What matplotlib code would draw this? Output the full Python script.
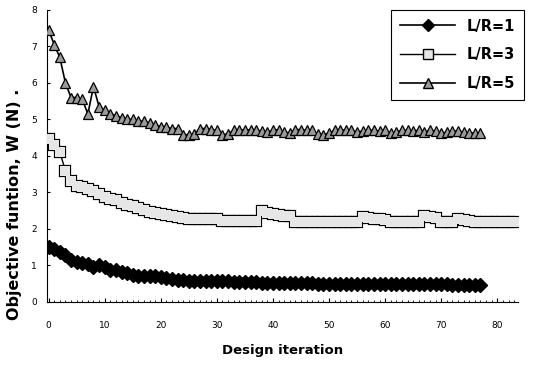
import matplotlib.pyplot as plt
from matplotlib.lines import Line2D

# design iterations and objective function values
it_r1 = list(range(78))
w_r1 = [1.50, 1.45, 1.38, 1.28, 1.15, 1.10, 1.08, 1.05, 0.95, 1.00,
        0.95, 0.88, 0.88, 0.82, 0.80, 0.75, 0.70, 0.72, 0.72, 0.70,
        0.68, 0.66, 0.63, 0.60, 0.60, 0.58, 0.58, 0.58, 0.57, 0.57,
        0.57, 0.57, 0.57, 0.56, 0.56, 0.56, 0.56, 0.56, 0.53, 0.53,
        0.52, 0.52, 0.52, 0.51, 0.51, 0.51, 0.51, 0.51, 0.50, 0.50,
        0.50, 0.50, 0.50, 0.50, 0.50, 0.50, 0.50, 0.50, 0.50, 0.49,
        0.49, 0.49, 0.49, 0.49, 0.49, 0.48, 0.48, 0.48, 0.48, 0.48,
        0.48, 0.48, 0.47, 0.47, 0.47, 0.47, 0.47, 0.47]

it_r3 = list(range(84))
w_r3 = [4.45, 4.30, 4.10, 3.60, 3.30, 3.18, 3.15, 3.10, 3.05, 2.95,
        2.88, 2.82, 2.78, 2.70, 2.66, 2.62, 2.57, 2.52, 2.47, 2.44,
        2.40, 2.38, 2.35, 2.33, 2.30, 2.28, 2.28, 2.27, 2.27, 2.26,
        2.26, 2.22, 2.22, 2.22, 2.22, 2.22, 2.22, 2.22, 2.48, 2.45,
        2.40, 2.38, 2.36, 2.35, 2.20, 2.20, 2.20, 2.20, 2.20, 2.20,
        2.20, 2.20, 2.20, 2.20, 2.20, 2.20, 2.32, 2.30, 2.28, 2.26,
        2.25, 2.20, 2.20, 2.20, 2.20, 2.20, 2.20, 2.36, 2.34, 2.30,
        2.18, 2.18, 2.20, 2.26, 2.25, 2.22, 2.20, 2.20, 2.20, 2.20,
        2.20, 2.20, 2.20, 2.20]

it_r5 = list(range(78))
w_r5 = [7.45, 7.05, 6.70, 6.00, 5.60, 5.60, 5.55, 5.15, 5.90, 5.35,
        5.25, 5.15, 5.10, 5.05, 5.00, 5.00, 4.95, 4.95, 4.90, 4.85,
        4.80, 4.78, 4.75, 4.75, 4.58, 4.58, 4.60, 4.75, 4.75, 4.72,
        4.70, 4.58, 4.60, 4.70, 4.72, 4.70, 4.72, 4.70, 4.68, 4.65,
        4.70, 4.72, 4.65, 4.63, 4.72, 4.72, 4.70, 4.70, 4.60, 4.58,
        4.62, 4.70, 4.72, 4.70, 4.70, 4.65, 4.68, 4.70, 4.70, 4.68,
        4.70, 4.62, 4.65, 4.70, 4.70, 4.68, 4.70, 4.65, 4.70, 4.68,
        4.62, 4.65, 4.68, 4.68, 4.65, 4.62, 4.63, 4.62]

labels = ['L/R=1', 'L/R=3', 'L/R=5']
x_ticks = [0, 10, 20, 30, 40, 50, 60, 70, 80]
y_ticks = [0, 1, 2, 3, 4, 5, 6, 7, 8]

fig = plt.figure(figsize=(5.33, 3.66), dpi=100)
ax = fig.add_axes([0.088, 0.175, 0.884, 0.798])

# L/R=3: outline pass then fill pass so overlapping squares read as one band
ax.plot(it_r3, w_r3, '-', color='black', lw=1, marker='s', ms=7.5,
        mfc='#e6e6e6', mec='black', mew=1.6, zorder=2)
ax.plot(it_r3, w_r3, 'none', marker='s', ms=7.5, mfc='#e6e6e6',
        mec='#e6e6e6', mew=0, zorder=3)

ax.plot(it_r5, w_r5, '-', color='black', lw=1.2, marker='^', ms=7,
        mfc='#9a9a9a', mec='black', mew=0.9, zorder=4)
ax.plot(it_r1, w_r1, '-', color='black', lw=1.2, marker='D', ms=7,
        mfc='black', mec='black', zorder=5)

ax.set_xlim(-0.3, 83.7)
ax.set_ylim(0, 8)
ax.set_xticks(x_ticks)
ax.set_yticks(y_ticks)
ax.set_xticks(range(0, 84), minor=True)
ax.tick_params(axis='x', which='major', direction='in', length=3, pad=14, labelsize=6.5)
ax.tick_params(axis='x', which='minor', direction='in', length=1.5)
ax.tick_params(axis='y', direction='in', length=2.5, pad=7, labelsize=6.5)
for s in ['top', 'right']:
    ax.spines[s].set_visible(False)

fig.text(0.53, 0.025, 'Design iteration', ha='center', va='bottom',
         fontsize=9.5, fontweight='bold')
fig.text(0.028, 0.443, 'Objective funtion, W (N) .', rotation=90,
         ha='center', va='center', fontsize=11.5, fontweight='bold')

handles = [
    Line2D([], [], color='black', lw=1.2, marker='D', ms=6.5, mfc='black', mec='black'),
    Line2D([], [], color='black', lw=1, marker='s', ms=6.5, mfc='#e6e6e6', mec='black'),
    Line2D([], [], color='black', lw=1.2, marker='^', ms=6.5, mfc='#9a9a9a', mec='black'),
]
leg = fig.legend(handles, labels, loc='upper right', bbox_to_anchor=(0.997, 0.993),
                 fancybox=False, edgecolor='black', framealpha=1,
                 handlelength=3.8, labelspacing=0.95, borderpad=0.6,
                 prop={'weight': 'bold', 'size': 10.5})
leg.get_frame().set_linewidth(0.8)

fig.savefig('out.png', dpi=100)
